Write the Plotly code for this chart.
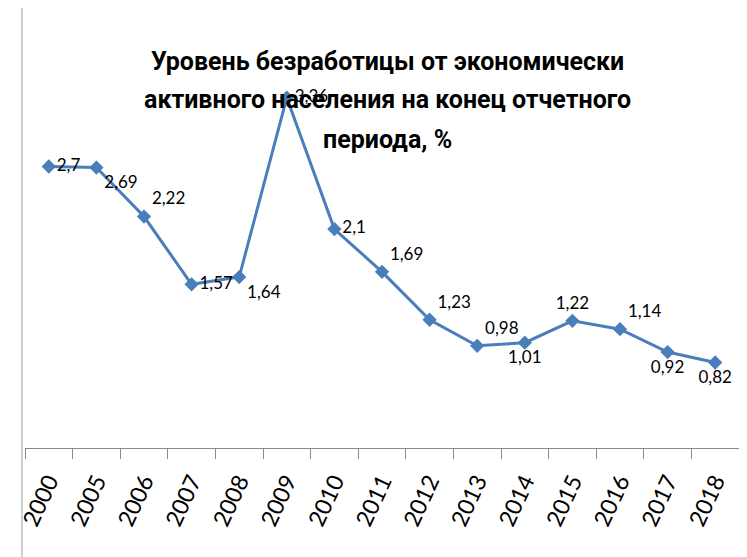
import plotly.graph_objects as go

years = ["2000", "2005", "2006", "2007", "2008", "2009", "2010", "2011",
         "2012", "2013", "2014", "2015", "2016", "2017", "2018"]
rate = [2.7, 2.69, 2.22, 1.57, 1.64, 3.36, 2.1, 1.69,
        1.23, 0.98, 1.01, 1.22, 1.14, 0.92, 0.82]
label_pos = ["middle right", "bottom right", "top right", "middle right", "bottom right",
             "middle right", "middle right", "top right", "top right", "top right",
             "bottom center", "top center", "top right", "bottom center", "bottom center"]
title_lines = ["Уровень безработицы от экономически",
               "активного населения на конец отчетного",
               "периода, %"]

labels = [f"{v:g}".replace(".", ",") for v in rate]

fig = go.Figure()
fig.add_trace(go.Scatter(
    x=years,
    y=rate,
    mode="lines+markers+text",
    line=dict(color="#4a7ebb", width=3),
    marker=dict(symbol="diamond", size=11, color="#4a7ebb"),
    text=labels,
    textposition=label_pos,
    textfont=dict(family="Lato, sans-serif", size=17, color="#000000"),
    showlegend=False,
    cliponaxis=False,
))

# title as three lines (wider line spacing than plotly's <br>)
for line, ypos in zip(title_lines, [0.926, 0.835, 0.739]):
    fig.add_annotation(
        text=line, xref="paper", yref="paper", x=0.508, y=ypos,
        yanchor="middle", showarrow=False,
        font=dict(family="Roboto, sans-serif", size=25, color="#000000", weight="bold"),
    )

fig.add_shape(type="line", xref="paper", yref="paper",
              x0=-0.0042, x1=-0.0042, y0=-0.27, y1=1.06,
              line=dict(color="#bfbfbf", width=1.5))

# page body adds an 8px offset, so the figure is a bit smaller than the window
fig.update_layout(
    width=739, height=549,
    margin=dict(l=17, r=8, t=23, b=109),
    plot_bgcolor="white", paper_bgcolor="white",
    font=dict(family="Lato, sans-serif", color="#000000"),
)
fig.update_xaxes(
    type="category", tickson="boundaries", ticks="outside", ticklen=10,
    tickcolor="#888888", showline=True, linecolor="#888888", linewidth=1,
    showgrid=False, tickangle=-65, automargin=False, ticklabelstandoff=10,
    tickfont=dict(family="Lato, sans-serif", size=23),
    range=[-0.5, 14.5],
)
fig.update_yaxes(range=[0, 4], visible=False, showgrid=False, automargin=False)

fig.write_html("out.html")
